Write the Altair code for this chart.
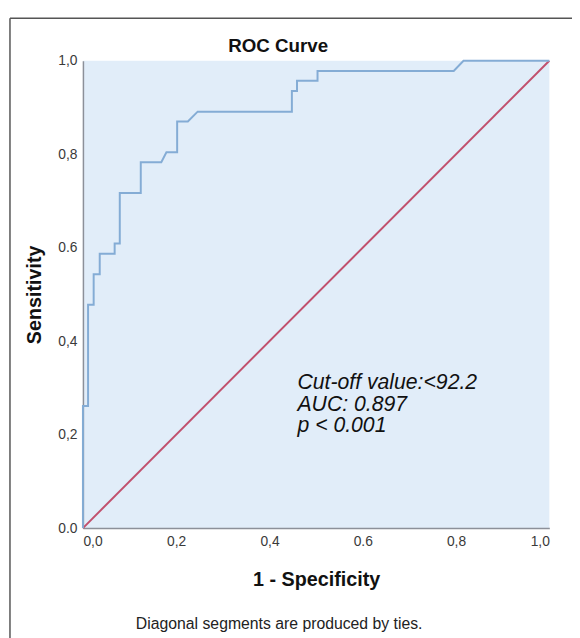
import altair as alt
import pandas as pd

# ROC curve steps (1 - specificity, sensitivity)
fpr = [0.0, 0.0, 0.011, 0.011, 0.023, 0.023, 0.036, 0.036, 0.068, 0.068, 0.079, 0.079,
       0.124, 0.124, 0.168, 0.179, 0.202, 0.202, 0.225, 0.246, 0.448, 0.448, 0.459, 0.459,
       0.503, 0.503, 0.795, 0.816, 1.0]
tpr = [0.0, 0.261, 0.261, 0.478, 0.478, 0.543, 0.543, 0.587, 0.587, 0.609, 0.609, 0.717,
       0.717, 0.783, 0.783, 0.804, 0.804, 0.870, 0.870, 0.891, 0.891, 0.935, 0.935, 0.957,
       0.957, 0.978, 0.978, 1.0, 1.0]

ref_x = [0.0, 1.0]
ref_y = [0.0, 1.0]

tick_values = [0.0, 0.2, 0.4, 0.6, 0.8, 1.0]
x_tick_labels = ["0,0", "0,2", "0,4", "0.6", "0,8", "1,0"]
y_tick_labels = ["0.0", "0,2", "0,4", "0.6", "0,8", "1,0"]

annot_lines = ["Cut-off value:<92.2", "AUC: 0.897", "p < 0.001"]
annot_x = [0.460, 0.460, 0.460]
annot_y = [0.297, 0.251, 0.205]

title_text = "ROC Curve"
x_title = "1 - Specificity"
y_title = "Sensitivity"
footnote = "Diagonal segments are produced by ties."

FONT = "Liberation Sans"
W, H = 473, 474

curve_df = pd.DataFrame({"fpr": fpr, "tpr": tpr, "i": range(len(fpr))})
ref_df = pd.DataFrame({"fpr": ref_x, "tpr": ref_y})
annot_df = pd.DataFrame({"x": annot_x, "y": annot_y, "t": annot_lines})
one = pd.DataFrame({"k": [0]})


def label_expr(labels):
    arr = "[" + ",".join("'" + s + "'" for s in labels) + "]"
    return f"{arr}[round(datum.value*5)]"


xscale = alt.Scale(domain=[0, 1], nice=False, zero=False)
yscale = alt.Scale(domain=[0, 1], nice=False, zero=False)

x_axis = alt.Axis(values=tick_values, labelExpr=label_expr(x_tick_labels), ticks=False,
                  grid=False, domainColor="#8c9099", domainWidth=1.5, labelFont=FONT,
                  labelFontSize=14, labelColor="#3a3a3a", labelPadding=7,
                  title=x_title, titleFont=FONT, titleFontSize=20, titleFontWeight="bold",
                  titleColor="#111111", titlePadding=21)
y_axis = alt.Axis(values=tick_values, labelExpr=label_expr(y_tick_labels), ticks=False,
                  grid=False, domainColor="#8c9099", domainWidth=1.5, labelFont=FONT,
                  labelFontSize=14, labelColor="#3a3a3a", labelPadding=6,
                  title=y_title, titleFont=FONT, titleFontSize=20, titleFontWeight="bold",
                  titleColor="#111111", titlePadding=14)

diag = alt.Chart(ref_df).mark_line(color="#c1506d", strokeWidth=2).encode(
    x=alt.X("fpr:Q", scale=xscale, axis=x_axis),
    y=alt.Y("tpr:Q", scale=yscale, axis=y_axis),
)

curve = alt.Chart(curve_df).mark_line(color="#84acd5", strokeWidth=2).encode(
    x=alt.X("fpr:Q", scale=xscale),
    y=alt.Y("tpr:Q", scale=yscale),
    order="i:Q",
)

annot = alt.Chart(annot_df).mark_text(
    align="left", baseline="alphabetic", font=FONT, fontSize=21.5, fontStyle="italic",
    color="#111111"
).encode(x=alt.X("x:Q", scale=xscale), y=alt.Y("y:Q", scale=yscale), text="t:N")

title = alt.Chart(one).mark_text(
    align="center", baseline="alphabetic", font=FONT, fontSize=19, fontWeight="bold",
    color="#111111", text=title_text
).encode(x=alt.value(198), y=alt.value(-9))

foot = alt.Chart(one).mark_text(
    align="center", baseline="alphabetic", font=FONT, fontSize=16,
    color="#222222", text=footnote
).encode(x=alt.value(199), y=alt.value(576))

frame_left = alt.Chart(one).mark_rule(color="#555555", strokeWidth=1.5).encode(
    x=alt.value(-74), y=alt.value(-43), y2=alt.value(600))
frame_top = alt.Chart(one).mark_rule(color="#555555", strokeWidth=1.5).encode(
    x=alt.value(-74), x2=alt.value(496), y=alt.value(-43))

chart = alt.layer(frame_left, frame_top, diag, curve, annot, title, foot).properties(
    width=W, height=H,
    autosize=alt.AutoSizeParams(type="none"),
    padding={"left": 76, "top": 49, "right": 23, "bottom": 107},
    background="#ffffff",
).configure_view(fill="#e1edf9", stroke=None)

chart.save("out.html", embed_options={"renderer": "svg", "actions": False})
